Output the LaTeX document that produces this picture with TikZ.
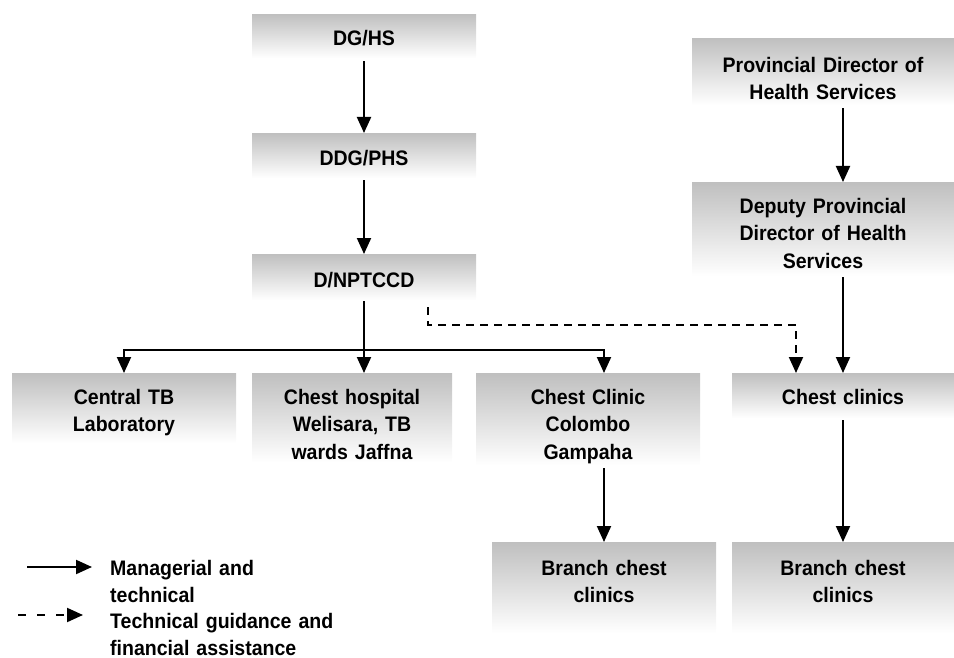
\documentclass[tikz,border=0pt]{standalone}
\usepackage{fontspec}
\setmainfont{Liberation Sans}
\newfontfamily\boxfont{Liberation Sans}[FakeStretch=0.93]
\usetikzlibrary{arrows.meta}
\begin{document}
\begin{tikzpicture}[x=1pt,y=-1pt,
  box/.style={shading=axis, top color=black!25, bottom color=white,
    inner xsep=0pt, inner ysep=0pt, anchor=north, align=center,
    font=\boxfont\bfseries\fontsize{21}{27.5}\selectfont},
  arr/.style={line width=2pt, -{Triangle[length=16pt,width=14pt]}},
  dasharr/.style={arr, dash pattern=on 8pt off 6pt},
  legtext/.style={anchor=base west, align=left, inner sep=0pt, text width=260pt,
    font=\boxfont\bfseries\fontsize{21}{27}\selectfont}]
\useasboundingbox (0,0) rectangle (954,658);

% boxes
\node[box, text width=224pt, text height=31pt, text depth=13pt] (dghs) at (364,14) {DG/HS};
\node[box, text width=224pt, text height=32pt, text depth=13pt] (ddg) at (364,133) {DDG/PHS};
\node[box, text width=224pt, text height=33pt, text depth=13pt] (dn) at (364,254) {D/NPTCCD};
\node[box, text width=262pt, text height=34pt, text depth=33pt] (prov) at (823,38) {Provincial Director of\\Health Services};
\node[box, text width=262pt, text height=31pt, text depth=63pt] (dep) at (823,182) {Deputy Provincial\\Director of Health\\Services};
\node[box, text width=224pt, text height=31pt, text depth=39pt] (ctb) at (124,373) {Central TB\\Laboratory};
\node[box, text width=200pt, text height=31pt, text depth=58pt] (ch) at (352,373) {Chest hospital\\Welisara, TB\\wards Jaffna};
\node[box, text width=224pt, text height=31pt, text depth=61pt] (col) at (588,373) {Chest Clinic\\Colombo\\Gampaha};
\node[box, text width=222pt, text height=31pt, text depth=14pt] (cc) at (843,373) {Chest clinics};
\node[box, text width=224pt, text height=33pt, text depth=58pt] (bl) at (604,542) {Branch chest\\clinics};
\node[box, text width=222pt, text height=33pt, text depth=58pt] (br) at (843,542) {Branch chest\\clinics};

% solid connectors
\draw[arr, shorten <=3pt] (dghs.south) -- (ddg.north);
\draw[arr, shorten <=2pt] (ddg.south) -- (dn.north);
\coordinate (j) at (364,350);
\draw[arr, shorten <=1pt] (dn.south) -- (dn.south |- ch.north);
\draw[arr] (j) -| (ctb.north);
\draw[arr] (j) -| (bl.north |- col.north);
\draw[arr, shorten <=3pt] (col.south -| bl.north) -- (bl.north);
\draw[arr, shorten <=3pt] (prov.south -| cc.north) -- (dep.north -| cc.north);
\draw[arr, shorten <=1pt] (dep.south -| cc.north) -- (cc.north);
\draw[arr, shorten <=2pt] (cc.south) -- (br.north);

% dashed connector
\draw[dasharr] ([xshift=64pt]dn.south) ++(0,7) -- ++(0,18) -| ([xshift=-47pt]cc.north);

% legend
\coordinate (l1a) at (27,567);
\coordinate (l1b) at (92,567);
\coordinate (l2a) at (18,615);
\coordinate (l2b) at (83,615);
\draw[arr] (l1a) -- (l1b);
\draw[arr, dash pattern=on 8pt off 11pt] (l2a) -- (l2b);
\node[legtext] (leg1) at (110,575) {Managerial and\\technical};
\node[legtext] (leg2) at (110,628) {Technical guidance and\\financial assistance};
\end{tikzpicture}
\end{document}
